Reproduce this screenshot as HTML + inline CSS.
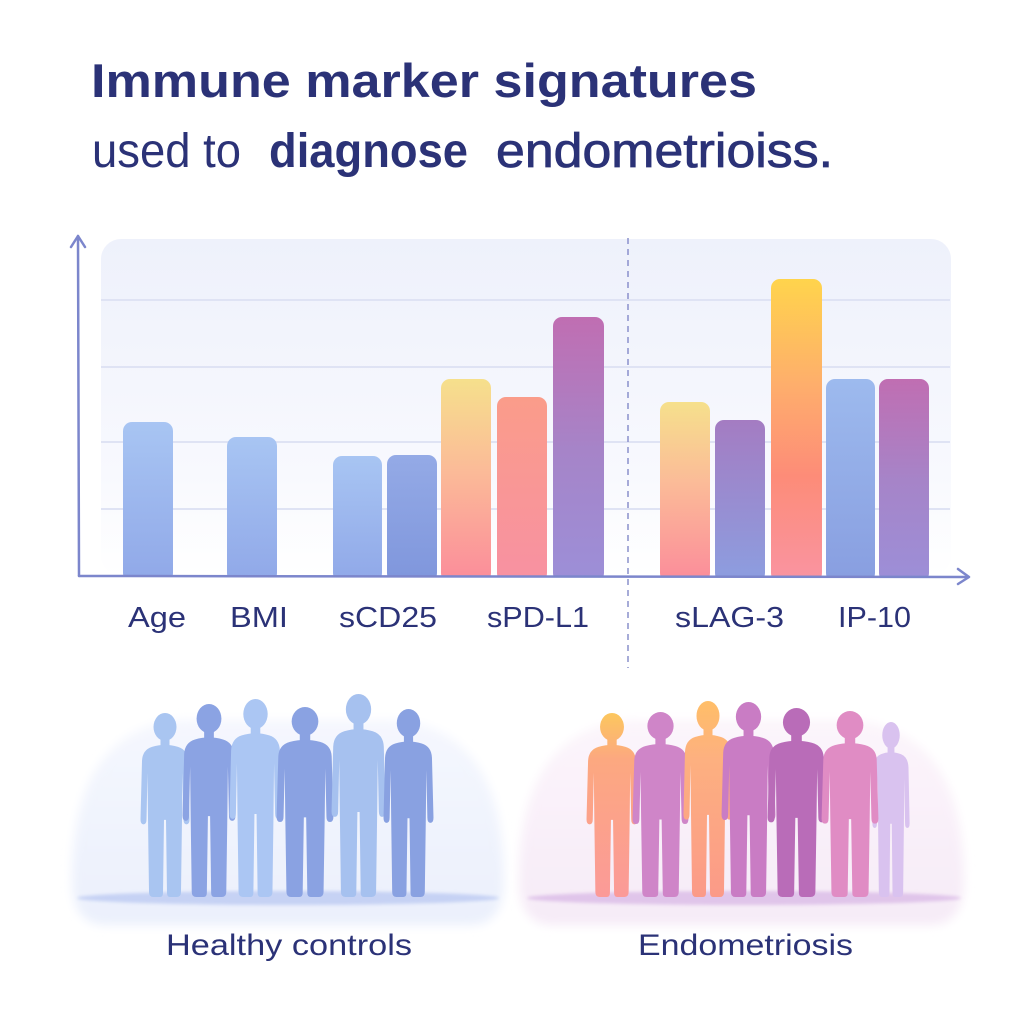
<!DOCTYPE html>
<html><head><meta charset="utf-8"><style>
html,body{margin:0;padding:0;background:#fff;}
svg{display:block;}
text{font-family:"Liberation Sans",sans-serif;fill:#2b3277;}
</style></head><body>
<svg width="1024" height="1024" viewBox="0 0 1024 1024" xmlns="http://www.w3.org/2000/svg">
<defs>
<linearGradient id="panel" x1="0" y1="0" x2="0" y2="1"><stop offset="0" stop-color="#eef1fb"/><stop offset="0.7" stop-color="#f8f9fe"/><stop offset="1" stop-color="#ffffff"/></linearGradient>
<linearGradient id="bBlue1" x1="0" y1="0" x2="0" y2="1"><stop offset="0" stop-color="#a8c5f3"/><stop offset="1" stop-color="#90a8e8"/></linearGradient>
<linearGradient id="bBlue2" x1="0" y1="0" x2="0" y2="1"><stop offset="0" stop-color="#94aae6"/><stop offset="1" stop-color="#7f96dc"/></linearGradient>
<linearGradient id="bYP" x1="0" y1="0" x2="0" y2="1"><stop offset="0" stop-color="#f6e08c"/><stop offset="0.45" stop-color="#fbbb98"/><stop offset="1" stop-color="#fb8c9a"/></linearGradient>
<linearGradient id="bSal" x1="0" y1="0" x2="0" y2="1"><stop offset="0" stop-color="#fa9c8a"/><stop offset="1" stop-color="#f891a2"/></linearGradient>
<linearGradient id="bPur" x1="0" y1="0" x2="0" y2="1"><stop offset="0" stop-color="#c06eb2"/><stop offset="0.5" stop-color="#a684c8"/><stop offset="1" stop-color="#9c8fd8"/></linearGradient>
<linearGradient id="bPur2" x1="0" y1="0" x2="0" y2="1"><stop offset="0" stop-color="#a47cc2"/><stop offset="1" stop-color="#8c9ee0"/></linearGradient>
<linearGradient id="bTall" x1="0" y1="0" x2="0" y2="1"><stop offset="0" stop-color="#ffd44c"/><stop offset="0.35" stop-color="#feae6c"/><stop offset="0.65" stop-color="#fd8c78"/><stop offset="1" stop-color="#f994a2"/></linearGradient>
<linearGradient id="bBlue3" x1="0" y1="0" x2="0" y2="1"><stop offset="0" stop-color="#9dbaee"/><stop offset="1" stop-color="#889ee0"/></linearGradient>
<linearGradient id="gF1" gradientUnits="userSpaceOnUse" x1="0" y1="0" x2="0" y2="370"><stop offset="0" stop-color="#fcc75e"/><stop offset="0.25" stop-color="#fca880"/><stop offset="1" stop-color="#fb9a98"/></linearGradient>
<linearGradient id="gF3" gradientUnits="userSpaceOnUse" x1="0" y1="0" x2="0" y2="370"><stop offset="0" stop-color="#ffbe68"/><stop offset="0.3" stop-color="#fdb080"/><stop offset="1" stop-color="#fb9a88"/></linearGradient>
<linearGradient id="blobL" x1="0" y1="0" x2="0" y2="1"><stop offset="0" stop-color="#f5f7fe"/><stop offset="1" stop-color="#ebf0fc"/></linearGradient>
<linearGradient id="blobR" x1="0" y1="0" x2="0" y2="1"><stop offset="0" stop-color="#fcf5fb"/><stop offset="1" stop-color="#f6ebf7"/></linearGradient>
<symbol id="p" viewBox="0 0 100 370" preserveAspectRatio="none">
<ellipse cx="50" cy="28" rx="23" ry="28"/>
<rect x="41" y="48" width="18" height="22"/>
<path d="M24 68 Q50 60 76 68 Q95 74 96 96 L99 214 Q99 224 93 224 Q87 224 87 214 L85 120 L84 212 L82 360 Q82 370 74 370 L60 370 Q54 370 54 362 L52 215 L48 215 L46 362 Q46 370 40 370 L26 370 Q18 370 18 360 L16 212 L15 120 L13 214 Q13 224 7 224 Q1 224 1 214 L4 96 Q5 74 24 68 Z"/>
</symbol>
<filter id="blur" x="-20%" y="-20%" width="140%" height="140%"><feGaussianBlur stdDeviation="5"/></filter>
<filter id="blur2" x="-20%" y="-200%" width="140%" height="500%"><feGaussianBlur stdDeviation="1.5"/></filter>
</defs>

<rect width="1024" height="1024" fill="#ffffff"/>

<!-- Title -->
<text x="91" y="97" font-size="47" font-weight="bold" textLength="666" lengthAdjust="spacingAndGlyphs">Immune marker signatures</text>
<text x="92" y="167" font-size="48" textLength="149" lengthAdjust="spacingAndGlyphs">used to</text>
<text x="269" y="167" font-size="48" font-weight="bold" textLength="199" lengthAdjust="spacingAndGlyphs">diagnose</text>
<text x="496" y="167" font-size="48" textLength="337" lengthAdjust="spacingAndGlyphs" stroke="#2b3277" stroke-width="0.8">endometrioiss.</text>

<!-- Chart panel -->
<rect x="101" y="239" width="850" height="337" rx="20" fill="url(#panel)"/>
<g stroke="#dfe3f4" stroke-width="2">
<line x1="101" y1="300" x2="950" y2="300"/>
<line x1="101" y1="367" x2="950" y2="367"/>
<line x1="101" y1="442" x2="950" y2="442"/>
<line x1="101" y1="509" x2="950" y2="509"/>
</g>

<!-- Bars -->
<rect x="123" y="422" width="50" height="160" rx="9" fill="url(#bBlue1)"/>
<rect x="227" y="437" width="50" height="145" rx="9" fill="url(#bBlue1)"/>
<rect x="333" y="456" width="49" height="126" rx="9" fill="url(#bBlue1)"/>
<rect x="387" y="455" width="50" height="127" rx="9" fill="url(#bBlue2)"/>
<rect x="441" y="379" width="50" height="203" rx="9" fill="url(#bYP)"/>
<rect x="497" y="397" width="50" height="185" rx="9" fill="url(#bSal)"/>
<rect x="553" y="317" width="51" height="265" rx="9" fill="url(#bPur)"/>
<rect x="660" y="402" width="50" height="180" rx="9" fill="url(#bYP)"/>
<rect x="715" y="420" width="50" height="162" rx="9" fill="url(#bPur2)"/>
<rect x="771" y="279" width="51" height="303" rx="9" fill="url(#bTall)"/>
<rect x="826" y="379" width="49" height="203" rx="9" fill="url(#bBlue3)"/>
<rect x="879" y="379" width="50" height="203" rx="9" fill="url(#bPur)"/>
<rect x="78" y="576" width="900" height="30" fill="#ffffff"/>

<line x1="628" y1="238" x2="628" y2="668" stroke="#8a90cc" stroke-width="1.5" stroke-dasharray="6 5"/>

<!-- Axes -->
<g stroke="#7c86cc" stroke-width="2.5" fill="none" stroke-linecap="round" stroke-linejoin="round">
<line x1="78" y1="236" x2="79" y2="576"/>
<polyline points="71,247 78,236 85,247"/>
<line x1="79" y1="576" x2="968" y2="577"/>
<polyline points="958,569 969,577 958,584"/>
</g>

<!-- Axis labels -->
<g font-size="29">
<text x="128" y="627" textLength="58" lengthAdjust="spacingAndGlyphs">Age</text>
<text x="230" y="627" textLength="58" lengthAdjust="spacingAndGlyphs">BMI</text>
<text x="339" y="627" textLength="98" lengthAdjust="spacingAndGlyphs">sCD25</text>
<text x="487" y="627" textLength="102" lengthAdjust="spacingAndGlyphs">sPD-L1</text>
<text x="675" y="627" textLength="109" lengthAdjust="spacingAndGlyphs">sLAG-3</text>
<text x="838" y="627" textLength="73" lengthAdjust="spacingAndGlyphs">IP-10</text>
</g>

<!-- Bottom blobs -->
<path d="M72 880 Q72 730 180 720 L396 720 Q504 730 504 880 Q504 925 470 925 L106 925 Q72 925 72 880 Z" fill="url(#blobL)" filter="url(#blur)"/>
<path d="M519 880 Q519 730 630 720 L852 720 Q964 730 964 880 Q964 925 930 925 L553 925 Q519 925 519 880 Z" fill="url(#blobR)" filter="url(#blur)"/>
<ellipse cx="288" cy="898" rx="211" ry="7" fill="#c6d2f4" filter="url(#blur2)"/>
<ellipse cx="744" cy="898" rx="217" ry="7" fill="#e0c5ea" filter="url(#blur2)"/>

<!-- Healthy controls people -->
<use href="#p" x="140" y="713" width="50" height="184" fill="#a9c5f1"/>
<use href="#p" x="182" y="704" width="54" height="193" fill="#8ba3e3"/>
<use href="#p" x="229" y="699" width="53" height="198" fill="#abc6f3"/>
<use href="#p" x="276" y="707" width="58" height="190" fill="#8aa2e2"/>
<use href="#p" x="331" y="694" width="55" height="203" fill="#a6c1ef"/>
<use href="#p" x="383" y="709" width="51" height="188" fill="#89a1e1"/>

<!-- Endometriosis people -->
<use href="#p" x="586" y="713" width="52" height="184" fill="url(#gF1)"/>
<use href="#p" x="632" y="712" width="57" height="185" fill="#cf85c8"/>
<use href="#p" x="683" y="701" width="50" height="196" fill="url(#gF3)"/>
<use href="#p" x="721" y="702" width="55" height="195" fill="#c97cc4"/>
<use href="#p" x="767" y="708" width="59" height="189" fill="#b96cb8"/>
<use href="#p" x="872" y="722" width="38" height="175" fill="#d9c2ef"/>
<use href="#p" x="821" y="711" width="58" height="186" fill="#e08cc4"/>

<!-- Group labels -->
<text x="166" y="955" font-size="30" textLength="246" lengthAdjust="spacingAndGlyphs">Healthy controls</text>
<text x="638" y="955" font-size="30" textLength="215" lengthAdjust="spacingAndGlyphs">Endometriosis</text>
</svg>
</body></html>
